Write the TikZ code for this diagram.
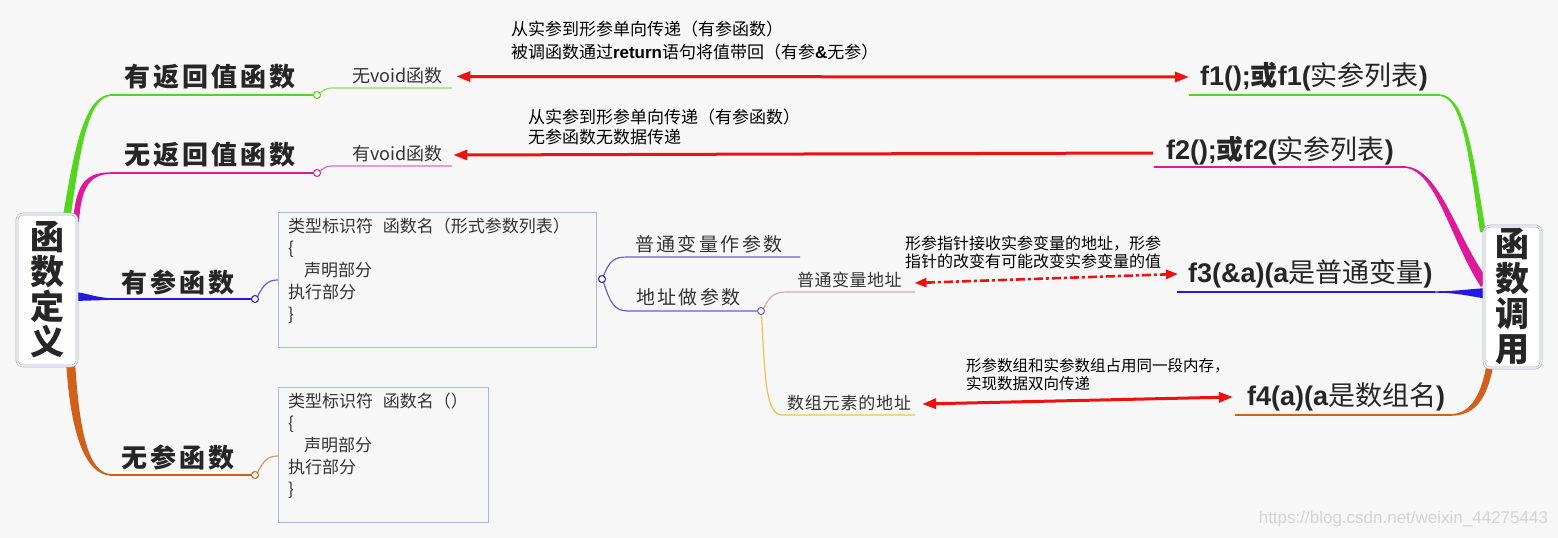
\documentclass[tikz,border=0pt]{standalone}
\usepackage{fontspec}
\setmainfont{Noto Sans CJK SC}
\newfontfamily\lat{Liberation Sans}
\usetikzlibrary{arrows.meta}
\definecolor{bg}{HTML}{F7F7F8}
\definecolor{txt}{HTML}{333333}
\definecolor{gr}{HTML}{55D61E}
\definecolor{grl}{HTML}{8EDB6E}
\definecolor{mg}{HTML}{E0189A}
\definecolor{mgl}{HTML}{DD6FBE}
\definecolor{bl}{HTML}{2418E0}
\definecolor{bll}{HTML}{6A5CE0}
\definecolor{og}{HTML}{D2601A}
\definecolor{ogl}{HTML}{E49060}
\definecolor{pk}{HTML}{E6A2BA}
\definecolor{yl}{HTML}{F2C24A}
\definecolor{bx}{HTML}{A9BBDD}
\definecolor{rootc}{HTML}{A8B0C0}
\definecolor{ar}{HTML}{F01010}
\begin{document}
\begin{tikzpicture}[x=1pt,y=-1pt,
  every node/.style={inner sep=0pt, outer sep=0pt, text=txt},
  root/.style={draw=rootc, double=white, double distance=1.2pt, line width=0.7pt,
    rounded corners=6pt, fill=white, align=center,
    font=\fontsize{34}{35}\selectfont\bfseries, text=black!85},
  big/.style={font=\fontsize{26}{28}\selectfont\bfseries\addfontfeatures{LetterSpace=12}, text=black!85},
  mid/.style={font=\fontsize{19}{22}\selectfont\addfontfeatures{LetterSpace=13}, anchor=west},
  small/.style={font=\fontsize{17}{20}\selectfont, anchor=west},
  voidlbl/.style={font=\fontsize{18}{20}\selectfont, anchor=west},
  note/.style={font=\fontsize{17}{23}\selectfont, align=left, anchor=west, text=black},
  notes/.style={font=\fontsize{16}{18}\selectfont, align=left, anchor=west, text=black},
  call/.style={font=\fontsize{27}{30}\selectfont, anchor=west, text=black!85},
  codebox/.style={draw=bx, line width=0.8pt, fill=bg, anchor=north west},
  code/.style={font=\fontsize{17}{22}\selectfont, align=left, anchor=north west},
  thin/.style={line width=1.5pt},
  sub/.style={line width=1.2pt},
  knob/.style={line width=1pt, fill=white},
  redarrow/.style={draw=ar, line width=3pt, {Triangle[length=14pt,width=10pt]}-{Triangle[length=14pt,width=10pt]}},
  redleft/.style={draw=ar, line width=3pt, {Triangle[length=14pt,width=10pt]}-},
  reddash/.style={draw=ar, line width=2.6pt, dash pattern=on 9pt off 3pt on 3pt off 3pt,
    {Triangle[length=12pt,width=9pt]}-{Triangle[length=12pt,width=9pt]}}
]
\useasboundingbox (0,0) rectangle (1558,538);
\fill[bg] (0,0) rectangle (1558,538);

% ---------- left tree branches ----------
\fill[gr] (62,222) .. controls (74,150) and (84,94.2) .. (112,94.2) -- (112,95.8) .. controls (88,96) and (80,150) .. (70,222) -- cycle;
\draw[gr,thin] (110,95) -- (313.5,95);
\fill[mg] (73,222) .. controls (76,185) and (84,172.2) .. (112,172.2) -- (112,173.8) .. controls (88,174) and (81,190) .. (79,222) -- cycle;
\draw[mg,thin] (110,173) -- (313.5,173);
\fill[bl] (74,292) .. controls (88,293) and (96,298.2) .. (115,298.2) -- (115,299.8) -- (74,301) -- cycle;
\draw[bl,thin] (110,299) -- (251.5,299);
\fill[og] (66,360) .. controls (70,430) and (84,475.8) .. (112,475.8) -- (112,474.2) .. controls (88,474) and (79,430) .. (75,360) -- cycle;
\draw[og,thin] (110,475) -- (251.5,475);

% sub branches
\draw[grl,sub] (320,93) .. controls (326,88) and (328,88) .. (336,88) -- (452,88);
\draw[gr,knob] (317,95) circle (3.5);
\draw[mgl,sub] (320,171) .. controls (326,166) and (328,166) .. (336,166) -- (452,166);
\draw[mg,knob] (317,173) circle (3.5);
\draw[bll,sub] (257.5,296.5) .. controls (264,284) and (268,280) .. (278,280);
\draw[bl,knob] (255,299) circle (3.5);
\draw[ogl,sub] (257.5,472.5) .. controls (264,460) and (268,456) .. (278,456);
\draw[og,knob] (255,475) circle (3.5);

% code boxes
\node[codebox, minimum width=318pt, minimum height=135pt] (b1) at (278,212) {};
\node[codebox, minimum width=210pt, minimum height=135pt] (b2) at (278,387) {};
\node[code] (c1) at ([shift={(10,5.5)}]b1.north west) {类型标识符\hspace{10pt}函数名（形式参数列表）\\\{\\\hspace*{16pt}声明部分\\执行部分\\\}};
\node[code] (c2) at ([shift={(10,5.5)}]b2.north west) {类型标识符\hspace{10pt}函数名（）\\\{\\\hspace*{16pt}声明部分\\执行部分\\\}};

% fork from box 1
\draw[bll,sub] (603.5,275.8) .. controls (610,260) and (614,257) .. (628,257) -- (800,257);
\draw[bll,sub] (603.5,282.2) .. controls (610,302) and (614,311) .. (628,311) -- (757.5,311);
\draw[bl,knob] (602,279) circle (3.5);
\draw[pk,sub] (763.5,308.5) .. controls (770,295) and (775,292) .. (788,292) -- (915,292);
\draw[yl,sub] (761.5,314.5) .. controls (765,380) and (766,415) .. (782,415) -- (915,415);
\draw[bll,knob] (761,311) circle (3.5);

% ---------- right tree branches ----------
\draw[gr,thin] (1189,95) -- (1440,95);
\fill[gr] (1438,94.2) .. controls (1466,94.2) and (1472,150) .. (1486,232) -- (1480,232) .. controls (1468,150) and (1462,95.8) .. (1438,95.8) -- cycle;
\draw[mg,thin] (1154,167) -- (1405,167);
\fill[mg] (1403,166.2) .. controls (1440,166.2) and (1455,235) .. (1488,280) -- (1481,287) .. controls (1450,240) and (1436,167.8) .. (1403,167.8) -- cycle;
\draw[bl,thin] (1177,292) -- (1435,292);
\fill[bl] (1433,291.3) .. controls (1458,291.3) and (1468,289) .. (1488,288) -- (1488,299) .. controls (1468,296) and (1458,292.7) .. (1433,292.7) -- cycle;
\draw[og,thin] (1235,415) -- (1452,415);
\fill[og] (1450,415.8) .. controls (1478,416) and (1488,395) .. (1494,362) -- (1487,362) .. controls (1482,392) and (1472,414.2) .. (1450,414.2) -- cycle;

% ---------- roots ----------
\node[root, minimum width=60pt, minimum height=152pt] (defn) at (47,290) {函\\数\\定\\义};
\node[root, minimum width=57pt, minimum height=142pt] (call) at (1512.5,297) {函\\数\\调\\用};

% ---------- labels ----------
\node[big] (ya) at (210,77) {有返回值函数};
\node[big] (wa) at (210,155) {无返回值函数};
\node[big] (yc) at (178,282) {有参函数};
\node[big] (wc) at (178,457) {无参函数};
\node[voidlbl] (nv) at (352,76) {无void函数};
\node[voidlbl] (yv) at (352,154) {有void函数};
\node[mid] (p1) at (635,244) {普通变量作参数};
\node[mid] (p2) at (636,297) {地址做参数};
\node[small, font=\fontsize{17}{20}\selectfont\addfontfeatures{LetterSpace=3}] (q1) at (797,280) {普通变量地址};
\node[small, font=\fontsize{17}{20}\selectfont\addfontfeatures{LetterSpace=5}] (q2) at (787,403) {数组元素的地址};

\node[note] (t1) at (511,40.5) {从实参到形参单向传递（有参函数）\\被调函数通过{\lat\bfseries return}语句将值带回（有参{\lat\bfseries\&}无参）};
\node[note, font=\fontsize{17}{20}\selectfont] (t2) at (528,127) {从实参到形参单向传递（有参函数）\\无参函数无数据传递};
\node[notes] (n1) at (905,252) {形参指针接收实参变量的地址，形参\\指针的改变有可能改变实参变量的值};
\node[notes, font=\fontsize{15.5}{18}\selectfont] (n2) at (966,375) {形参数组和实参数组占用同一段内存，\\实现数据双向传递};

\node[call] (f1) at (1200,77) {{\lat\bfseries f1();}{\bfseries 或}{\lat\bfseries f1(}实参列表{\lat\bfseries )}};
\node[call] (f2) at (1166,151) {{\lat\bfseries f2();}{\bfseries 或}{\lat\bfseries f2(}实参列表{\lat\bfseries )}};
\node[call] (f3) at (1188,274) {{\lat\bfseries f3(\&a)(a}是普通变量{\lat\bfseries )}};
\node[call] (f4) at (1247,397) {{\lat\bfseries f4(a)(a}是数组名{\lat\bfseries )}};

\node[anchor=east, font=\lat\fontsize{17}{20}\selectfont, text=black!17] (wm) at (1548,519) {https://blog.csdn.net/weixin\_44275443};

% ---------- red connectors ----------
\draw[redarrow] ([xshift=14pt,yshift=-0.5pt]nv.east) -- ([xshift=-11pt]f1.west);
\draw[redleft] ([xshift=11pt,yshift=-1pt]yv.east) -- ([xshift=-13pt,yshift=-2pt]f2.west);
\draw[reddash] ([xshift=13pt,yshift=-3pt]q1.east) -- ([xshift=-10pt]f3.west);
\draw[redarrow] ([xshift=11pt,yshift=-1pt]q2.east) -- ([xshift=-14pt]f4.west);
\end{tikzpicture}
\end{document}
